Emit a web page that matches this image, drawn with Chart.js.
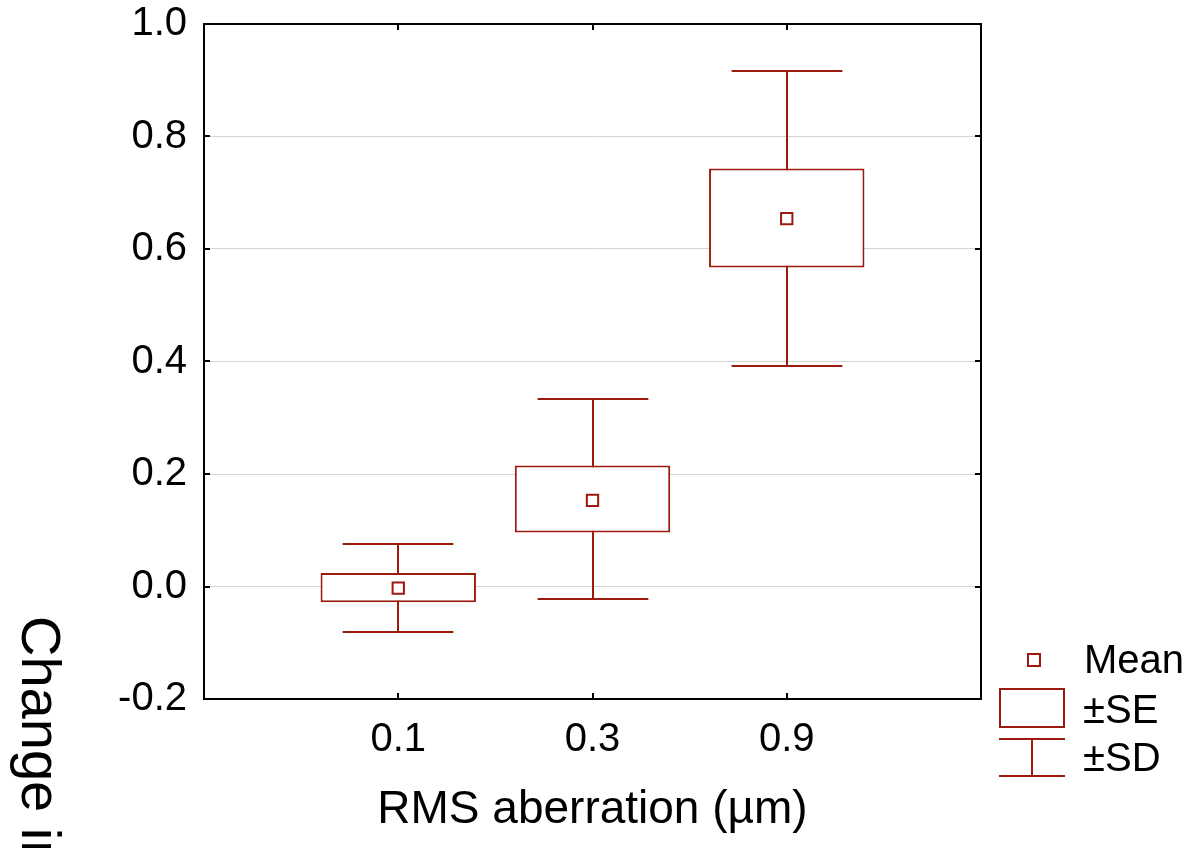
<!DOCTYPE html>
<html>
<head>
<meta charset="utf-8">
<script src="https://cdn.jsdelivr.net/npm/chart.js@4/dist/chart.umd.min.js"></script>
<style>
  html, body { margin: 0; padding: 0; background: #fff; }
  #wrap { width: 1194px; height: 848px; position: relative; }
</style>
</head>
<body>
<div id="wrap"><canvas id="c" width="1194" height="848"></canvas></div>
<script>
  // values
  const categories = ["", "0.1", "0.3", "0.9", ""];
  const means  = [null, -0.003, 0.153, 0.654, null];
  const seLow  = [null, -0.028, 0.096, 0.567, null];
  const seHigh = [null, 0.024, 0.215, 0.743, null];
  const sdLow  = [null, -0.080, -0.023, 0.392, null];
  const sdHigh = [null, 0.075, 0.334, 0.917, null];
  const yTicks = [-0.2, 0.0, 0.2, 0.4, 0.6, 0.8, 1.0];

  const RED = "#9c1a0d";
  const FONT = "'Liberation Sans', Arial, sans-serif";

  // whiskers under the boxes
  const whiskers = {
    id: "whiskers",
    beforeDatasetsDraw(chart) {
      const { ctx, scales: { x, y } } = chart;
      const step = x.getPixelForValue(2) - x.getPixelForValue(1);
      const half = step * 0.285;
      ctx.save();
      ctx.strokeStyle = RED;
      ctx.lineWidth = 2;
      ctx.beginPath();
      for (let i = 0; i < categories.length; i++) {
        if (sdLow[i] == null) continue;
        const px = Math.round(x.getPixelForValue(i));
        const yl = Math.round(y.getPixelForValue(sdLow[i]));
        const yh = Math.round(y.getPixelForValue(sdHigh[i]));
        ctx.moveTo(px, yl); ctx.lineTo(px, yh);
        ctx.moveTo(px - half, yl); ctx.lineTo(px + half, yl);
        ctx.moveTo(px - half, yh); ctx.lineTo(px + half, yh);
      }
      ctx.stroke();
      ctx.restore();
    }
  };

  // frame, inward ticks, legend and the rotated y title
  const frame = {
    id: "frame",
    afterDraw(chart) {
      const { ctx, chartArea: a, scales: { x, y } } = chart;
      ctx.save();
      ctx.strokeStyle = "#000";
      ctx.lineWidth = 2;
      ctx.strokeRect(a.left, a.top, a.right - a.left, a.bottom - a.top);
      ctx.beginPath();
      for (const v of yTicks) {
        const py = Math.round(y.getPixelForValue(v));
        ctx.moveTo(a.left, py); ctx.lineTo(a.left + 6, py);
        ctx.moveTo(a.right, py); ctx.lineTo(a.right - 6, py);
      }
      for (let i = 0; i < categories.length; i++) {
        if (!categories[i]) continue;
        const px = Math.round(x.getPixelForValue(i));
        ctx.moveTo(px, a.top); ctx.lineTo(px, a.top + 6);
        ctx.moveTo(px, a.bottom); ctx.lineTo(px, a.bottom - 6);
      }
      ctx.stroke();

      // legend
      ctx.strokeStyle = RED;
      ctx.lineWidth = 2;
      ctx.fillStyle = "#fff";
      ctx.fillRect(1028, 654, 12, 12);
      ctx.strokeRect(1028, 654, 12, 12);
      ctx.strokeRect(1000, 689, 64, 38);
      ctx.beginPath();
      ctx.moveTo(999, 739); ctx.lineTo(1065, 739);
      ctx.moveTo(999, 776); ctx.lineTo(1065, 776);
      ctx.moveTo(1032, 739); ctx.lineTo(1032, 776);
      ctx.stroke();
      ctx.fillStyle = "#000";
      ctx.font = "40px " + FONT;
      ctx.textAlign = "left";
      ctx.textBaseline = "alphabetic";
      ctx.fillText("Mean", 1084, 673);
      ctx.fillText("±SE", 1083, 723);
      ctx.fillText("±SD", 1083, 771);

      // y title, runs off the bottom of the figure
      ctx.translate(22, 616);
      ctx.rotate(Math.PI / 2);
      ctx.font = "56px " + FONT;
      ctx.fillText("Change in", 0, 0);
      ctx.restore();
    }
  };

  new Chart(document.getElementById("c"), {
    type: "bar",
    data: {
      labels: categories,
      datasets: [
        {
          type: "line",
          label: "Mean",
          data: means,
          showLine: false,
          pointStyle: "rect",
          pointRadius: 8,
          pointBorderWidth: 2,
          pointBackgroundColor: "#fff",
          pointBorderColor: RED,
          borderColor: RED,
          order: 0,
        },
        {
          label: "±SE",
          data: seLow.map((v, i) => (v == null ? null : [v, seHigh[i]])),
          backgroundColor: "#fff",
          borderColor: RED,
          borderWidth: 2,
          borderSkipped: false,
          barPercentage: 0.8,
          categoryPercentage: 1,
          order: 1,
        },
      ],
    },
    options: {
      responsive: false,
      animation: false,
      devicePixelRatio: 1,
      layout: { padding: { left: 0, top: 24, right: 213, bottom: 0 } },
      plugins: { legend: { display: false }, tooltip: { enabled: false } },
      scales: {
        x: {
          offset: false,
          grid: { display: false, drawTicks: false },
          border: { display: false },
          ticks: {
            autoSkip: false,
            maxRotation: 0,
            padding: 17,
            color: "#000",
            font: { family: FONT, size: 40 },
          },
          title: {
            display: true,
            text: "RMS aberration (µm)",
            color: "#000",
            font: { family: FONT, size: 46 },
            padding: { top: 0, bottom: 10 },
          },
          afterFit(s) { s.height = 149; s.paddingLeft = 0; s.paddingRight = 0; },
        },
        y: {
          min: -0.2,
          max: 1.0,
          afterBuildTicks(s) { s.ticks = yTicks.map(v => ({ value: v })); },
          grid: { color: "#d4d4d4", lineWidth: 1, drawTicks: false },
          border: { display: false },
          ticks: {
            padding: 17,
            color: "#000",
            font: { family: FONT, size: 40 },
            callback: (v) => (Math.abs(v) < 1e-9 ? 0 : v).toFixed(1),
          },
          afterFit(s) { s.width = 204; s.paddingTop = 0; s.paddingBottom = 0; },
        },
      },
    },
    plugins: [whiskers, frame],
  });
</script>
</body>
</html>
